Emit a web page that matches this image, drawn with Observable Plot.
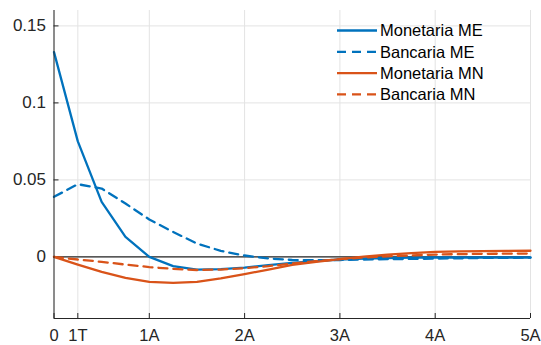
<!DOCTYPE html>
<html>
<head>
<meta charset="utf-8">
<script src="https://cdn.jsdelivr.net/npm/d3@7"></script>
<script src="https://cdn.jsdelivr.net/npm/@observablehq/plot@0.6"></script>
<style>
  html, body { margin: 0; padding: 0; background: #fff; }
  #chart { position: relative; width: 541px; height: 345px; }
</style>
</head>
<body>
<div id="chart"></div>
<script>
// Quarters 0..20 (0 to 5 years)
const quarters = d3.range(0, 21);
const monetariaME = [0.133, 0.075, 0.0357, 0.013, 0.0, -0.006, -0.0082, -0.008, -0.0069, -0.0054, -0.0039, -0.0027, -0.0017, -0.0011, -0.0007, -0.0005, -0.0004, -0.0004, -0.0004, -0.0004, -0.0004];
const bancariaME  = [0.039, 0.0472, 0.0444, 0.0347, 0.0243, 0.0162, 0.0087, 0.0039, 0.0009, -0.001, -0.002, -0.0022, -0.002, -0.0017, -0.0015, -0.0013, -0.0011, -0.0009, -0.0007, -0.0006, -0.0005];
const monetariaMN = [0, -0.005, -0.0097, -0.0136, -0.0162, -0.0169, -0.0162, -0.014, -0.0112, -0.0082, -0.0051, -0.0032, -0.0015, 0.0002, 0.0015, 0.0025, 0.0032, 0.0036, 0.0038, 0.0039, 0.004];
const bancariaMN  = [0, -0.0017, -0.0032, -0.005, -0.0066, -0.0078, -0.0085, -0.0082, -0.0073, -0.006, -0.0043, -0.0028, -0.0015, -0.0004, 0.0004, 0.001, 0.0015, 0.0018, 0.002, 0.0021, 0.0022];

const seriesNames = ["Monetaria ME", "Bancaria ME", "Monetaria MN", "Bancaria MN"];
const seriesValues = [monetariaME, bancariaME, monetariaMN, bancariaMN];
const seriesColors = ["#0072BD", "#0072BD", "#D95319", "#D95319"];
const seriesDash = [null, "9,6", null, "9,6"];

const xTicks = [0, 1, 4, 8, 12, 16, 20];
const xTickLabels = ["0", "1T", "1A", "2A", "3A", "4A", "5A"];
const yTicks = [0, 0.05, 0.1, 0.15];
const xDomain = [0, 20];
const yDomain = [-0.04, 0.16];

const W = 541, H = 345;
const mL = 53.5, mR = 11, mT = 10, mB = 27;
const plotW = W - mL - mR, plotH = H - mT - mB;
const axisColor = "#262626";
const gridColor = "#e3e3e3";
const font = "'Liberation Sans', Arial, Helvetica, sans-serif";

const lineMarks = seriesValues.map((vals, i) =>
  Plot.line(quarters.map((q, j) => ({q, v: vals[j]})), {
    x: "q", y: "v",
    stroke: seriesColors[i],
    strokeWidth: 2.3,
    strokeDasharray: seriesDash[i] ?? undefined,
    strokeLinejoin: "round"
  })
);

const plot = Plot.plot({
  width: W, height: H,
  marginLeft: mL, marginRight: mR, marginTop: mT, marginBottom: mB,
  style: {fontFamily: font, background: "white", color: axisColor},
  x: {domain: xDomain, label: null},
  y: {domain: yDomain, label: null},
  marks: [
    Plot.gridX(xTicks, {stroke: gridColor, strokeOpacity: 1}),
    Plot.gridY(yTicks, {stroke: gridColor, strokeOpacity: 1}),
    Plot.axisX(xTicks, {tickSize: 0, tickPadding: 11, fontSize: 16.5, fill: axisColor,
      tickFormat: d => xTickLabels[xTicks.indexOf(d)]}),
    Plot.axisY(yTicks, {tickSize: 0, tickPadding: 8, fontSize: 17, fill: axisColor,
      tickFormat: d => d3.format("")(d)}),
    Plot.tickX(xTicks, {x: d => d, stroke: axisColor, insetTop: plotH - 5}),
    Plot.tickY(yTicks, {y: d => d, stroke: axisColor, insetRight: plotW - 5}),
    Plot.ruleY([0], {stroke: axisColor, strokeWidth: 1.3}),
    ...lineMarks,
    Plot.ruleX([xDomain[0]], {stroke: axisColor}),
    Plot.ruleY([yDomain[0]], {stroke: axisColor})
  ]
});

document.getElementById("chart").appendChild(plot);

// Legend inside the plot, top-right
const svg = d3.select(plot);
const lg = svg.append("g")
  .attr("font-family", font).attr("font-size", 16.5)
  .attr("fill", "#000").attr("text-anchor", "start");
seriesNames.forEach((name, i) => {
  const y = 30.5 + i * 21.3;
  lg.append("line")
    .attr("x1", 337).attr("x2", 377).attr("y1", y).attr("y2", y)
    .attr("stroke", seriesColors[i]).attr("stroke-width", 2.3)
    .attr("stroke-dasharray", seriesDash[i]);
  lg.append("text").attr("x", 380).attr("y", y).attr("dy", "0.36em")
    .attr("text-anchor", "start").text(name);
});
</script>
</body>
</html>
